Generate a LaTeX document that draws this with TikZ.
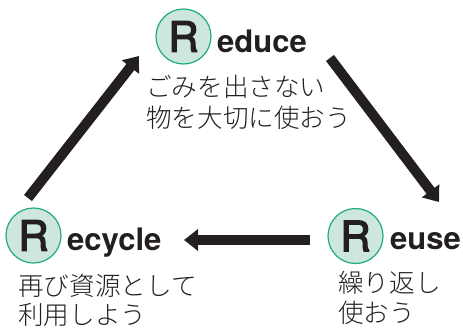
\documentclass[tikz,border=0pt]{standalone}
\usepackage{fontspec}
\setmainfont{TeX Gyre Heros}
\newfontfamily\jp{Noto Sans CJK JP Light}
\newfontfamily\rmed{TeX Gyre Heros}[FakeBold=3]
\usetikzlibrary{arrows.meta}
\definecolor{ink}{HTML}{231F20}
\definecolor{mint}{HTML}{CDE7DD}
\definecolor{rgreen}{HTML}{1FAA80}
\tikzset{
  rbadge/.style={circle, draw=rgreen, fill=mint, line width=1.2pt, minimum size=55pt, inner sep=0pt,
    font=\rmed\fontsize{42}{42}\selectfont, text=ink},
  word/.style={anchor=base west, inner sep=0pt, font=\fontsize{31}{31}\selectfont\bfseries, text=ink},
  jtext/.style={anchor=base west, inner sep=0pt, font=\jp\fontsize{25.6}{25.6}\selectfont, text=ink},
  bigarrow/.style={draw=ink, line width=10pt, -{Triangle[width=21pt,length=14pt]}}
}
\begin{document}
\begin{tikzpicture}[x=1pt,y=-1pt]
\useasboundingbox (0,0) rectangle (463,327);
% Reduce
\node[rbadge] (rdc) at (183.5,36.5) {R};
\node[word] (rdcw) at (217,52) {educe};
\node[jtext] (rdj1) at (146,96.5) {ごみを出さない};
\node[jtext] (rdj2) at (146,127.5) {物を大切に使おう};
% Recycle
\node[rbadge] (rcy) at (33.5,235.5) {R};
\node[word] (rcyw) at (67,250) {ecycle};
\node[jtext] (rcyj1) at (18,295.5) {再び資源として};
\node[jtext] (rcyj2) at (18,324.5) {利用しよう};
% Reuse
\node[rbadge] (rus) at (355.5,236) {R};
\node[word] (rusw) at (390,249) {euse};
\node[jtext] (rusj1) at (338,292.5) {繰り返し};
\node[jtext] (rusj2) at (338,322.5) {使おう};
% arrows
\coordinate (a1s) at (28,198);
\coordinate (a1e) at (139,56);
\coordinate (a2s) at (330,58);
\coordinate (a2e) at (439,202);
\coordinate (a3s) at (310,240);
\coordinate (a3e) at (184,240);
\draw[bigarrow] (a1s) -- (a1e);
\draw[bigarrow] (a2s) -- (a2e);
\draw[bigarrow] (a3s) -- (a3e);
\end{tikzpicture}
\end{document}
